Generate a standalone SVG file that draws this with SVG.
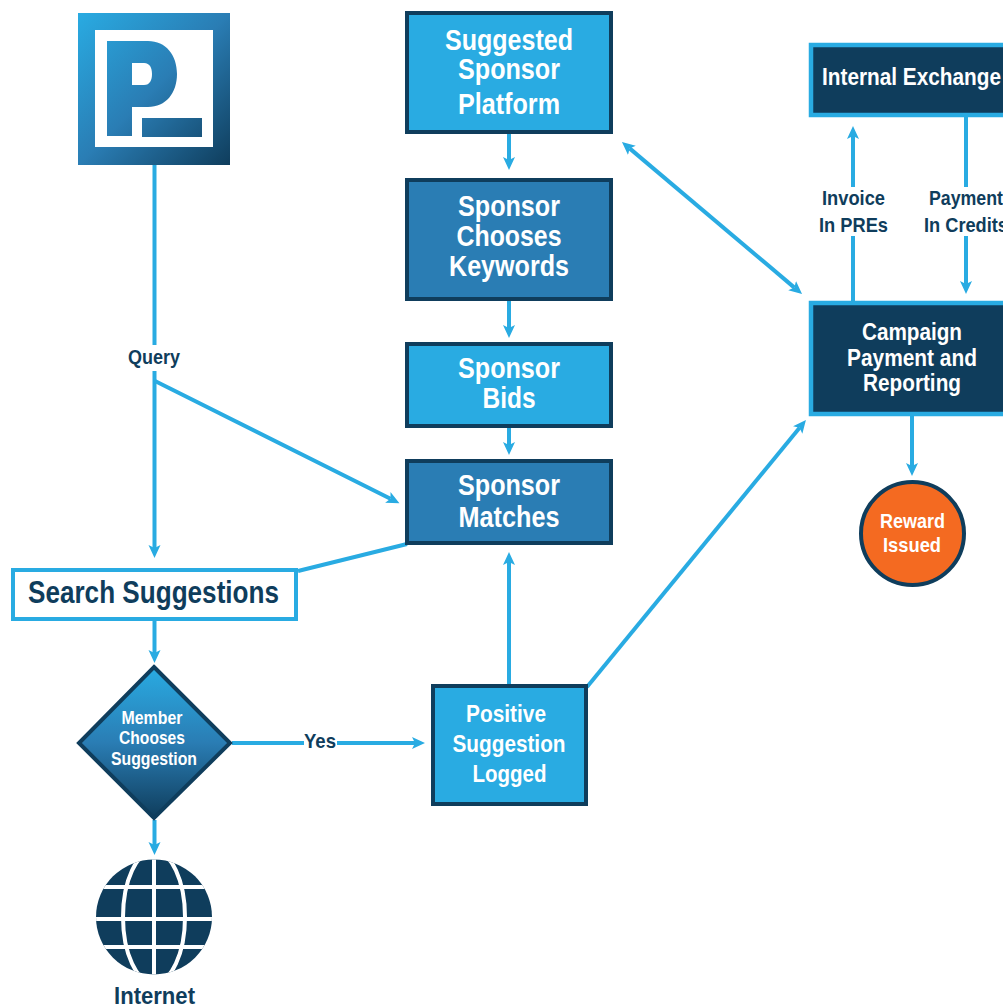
<svg xmlns="http://www.w3.org/2000/svg" width="1003" height="1008" viewBox="0 0 1003 1008">
<defs>
<linearGradient id="logoG" gradientUnits="userSpaceOnUse" x1="78" y1="13" x2="230" y2="165"><stop offset="0" stop-color="#29ABE2"/><stop offset="0.5" stop-color="#2A7DB4"/><stop offset="1" stop-color="#0F3D5C"/></linearGradient>
<linearGradient id="diaG" gradientUnits="userSpaceOnUse" x1="154" y1="667" x2="154" y2="818"><stop offset="0" stop-color="#29ABE2"/><stop offset="0.5" stop-color="#2A7DB4"/><stop offset="1" stop-color="#0F3D5C"/></linearGradient>
<marker id="ah" markerUnits="userSpaceOnUse" markerWidth="14" markerHeight="14" refX="3" refY="6.500" orient="auto-start-reverse" viewBox="0 0 14 13"><path d="M0 0.500L13 6.500L0 12.500L3 6.500Z" fill="#29ABE2"/></marker>
<clipPath id="gc"><ellipse cx="154" cy="917" rx="58" ry="57.500"/></clipPath>
</defs>
<style>
text{font-family:"Liberation Sans",Arial,sans-serif;font-weight:700;text-anchor:middle}
.l{fill:#fff}.d{fill:#0F3D5C}
.c{fill:none;stroke:#29ABE2;stroke-width:4}
.bl{fill:#29ABE2;stroke:#0F3D5C;stroke-width:4}
.bm{fill:#2A7DB4;stroke:#0F3D5C;stroke-width:4}
.bd{fill:#0F3D5C;stroke:#29ABE2;stroke-width:4.500}
.t1{font-size:29px}.t2{font-size:24px}.t3{font-size:24px}.t4{font-size:21px}.t5{font-size:17.500px}
</style>
<g id="connectors">
<path class="c" d="M154.500 165V345"/>
<path class="c" d="M154.500 371V548" marker-end="url(#ah)"/>
<path class="c" d="M155 381L390.500 498.800" marker-end="url(#ah)"/>
<path class="c" d="M154.500 621V653" marker-end="url(#ah)"/>
<path class="c" d="M154.500 820V845" marker-end="url(#ah)"/>
<path class="c" d="M232 743H304"/>
<path class="c" d="M337 743H415" marker-end="url(#ah)"/>
<path class="c" d="M509 134V160" marker-end="url(#ah)"/>
<path class="c" d="M509 301V328" marker-end="url(#ah)"/>
<path class="c" d="M509 428V445" marker-end="url(#ah)"/>
<path class="c" d="M509 684V562" marker-end="url(#ah)"/>
<path class="c" d="M298 571L407 544"/>
<path class="c" d="M587 687L799.600 427.700" marker-end="url(#ah)"/>
<path class="c" d="M629.600 148.400L794.400 287.600" marker-start="url(#ah)" marker-end="url(#ah)"/>
<path class="c" d="M853 301V236"/>
<path class="c" d="M853 187V136" marker-end="url(#ah)"/>
<path class="c" d="M966 117V187"/>
<path class="c" d="M966 236V284" marker-end="url(#ah)"/>
<path class="c" d="M912 416V466" marker-end="url(#ah)"/>
<text class="d t4" x="154" y="364" textLength="52" lengthAdjust="spacingAndGlyphs">Query</text>
<text class="d t4" x="320" y="748" textLength="32" lengthAdjust="spacingAndGlyphs">Yes</text>
<text class="d t4" x="853.500" y="205" textLength="63" lengthAdjust="spacingAndGlyphs">Invoice</text>
<text class="d t4" x="853.500" y="232" textLength="69" lengthAdjust="spacingAndGlyphs">In PREs</text>
<text class="d t4" x="966" y="205" textLength="74" lengthAdjust="spacingAndGlyphs">Payment</text>
<text class="d t4" x="966" y="232" textLength="84" lengthAdjust="spacingAndGlyphs">In Credits</text>
</g>
<g id="logo">
<rect x="78" y="13" width="152" height="152" fill="url(#logoG)"/>
<rect x="95" y="30" width="118" height="117" fill="#fff"/>
<path fill="url(#logoG)" fill-rule="evenodd" d="M107 41H148C166 41 177 55 177 74C177 93 166 107 148 107H132V136H107ZM132 63V85H144C150 85 152 80 152 74C152 68 150 63 144 63Z"/>
<rect x="142" y="118" width="60" height="19" fill="url(#logoG)"/>
</g>
<g id="suggested-sponsor-platform">
<rect class="bl" x="407" y="13" width="204" height="119"/>
<text class="l t1" x="509" y="50" textLength="128" lengthAdjust="spacingAndGlyphs">Suggested</text>
<text class="l t1" x="509" y="79" textLength="102" lengthAdjust="spacingAndGlyphs">Sponsor</text>
<text class="l t1" x="509" y="114" textLength="102" lengthAdjust="spacingAndGlyphs">Platform</text>
</g>
<g id="sponsor-chooses-keywords">
<rect class="bm" x="407" y="180" width="204" height="119"/>
<text class="l t1" x="509" y="216" textLength="102" lengthAdjust="spacingAndGlyphs">Sponsor</text>
<text class="l t1" x="509" y="246" textLength="105" lengthAdjust="spacingAndGlyphs">Chooses</text>
<text class="l t1" x="509" y="276" textLength="120" lengthAdjust="spacingAndGlyphs">Keywords</text>
</g>
<g id="sponsor-bids">
<rect class="bl" x="407" y="344" width="204" height="82"/>
<text class="l t1" x="509" y="378" textLength="102" lengthAdjust="spacingAndGlyphs">Sponsor</text>
<text class="l t1" x="509" y="408" textLength="53" lengthAdjust="spacingAndGlyphs">Bids</text>
</g>
<g id="sponsor-matches">
<rect class="bm" x="407" y="461" width="204" height="82"/>
<text class="l t1" x="509" y="495" textLength="102" lengthAdjust="spacingAndGlyphs">Sponsor</text>
<text class="l t1" x="509" y="527" textLength="101" lengthAdjust="spacingAndGlyphs">Matches</text>
</g>
<g id="search-suggestions">
<rect x="13" y="570" width="283" height="49" fill="#fff" stroke="#29ABE2" stroke-width="4"/>
<text class="d" font-size="32" x="153.500" y="603" textLength="251" lengthAdjust="spacingAndGlyphs">Search Suggestions</text>
</g>
<g id="member-chooses-suggestion">
<path d="M154 667L230 743L154 818L79 743Z" fill="url(#diaG)" stroke="#0F3D5C" stroke-width="4"/>
<text class="l t5" x="152" y="724" textLength="61" lengthAdjust="spacingAndGlyphs">Member</text>
<text class="l t5" x="152" y="744" textLength="66" lengthAdjust="spacingAndGlyphs">Chooses</text>
<text class="l t5" x="154" y="765" textLength="86" lengthAdjust="spacingAndGlyphs">Suggestion</text>
</g>
<g id="positive-suggestion-logged">
<rect class="bl" x="433" y="686" width="153" height="118"/>
<text class="l t2" x="506" y="722" textLength="80" lengthAdjust="spacingAndGlyphs">Positive</text>
<text class="l t2" x="509" y="752" textLength="113" lengthAdjust="spacingAndGlyphs">Suggestion</text>
<text class="l t2" x="509.500" y="782" textLength="74" lengthAdjust="spacingAndGlyphs">Logged</text>
</g>
<g id="internal-exchange">
<rect class="bd" x="811" y="45" width="230" height="70"/>
<text class="l t3" x="911.500" y="85" textLength="179" lengthAdjust="spacingAndGlyphs">Internal Exchange</text>
</g>
<g id="campaign-payment-reporting">
<rect class="bd" x="811" y="303" width="230" height="111"/>
<text class="l t3" x="912" y="340" textLength="100" lengthAdjust="spacingAndGlyphs">Campaign</text>
<text class="l t3" x="912" y="366" textLength="130" lengthAdjust="spacingAndGlyphs">Payment and</text>
<text class="l t3" x="912" y="391" textLength="98" lengthAdjust="spacingAndGlyphs">Reporting</text>
</g>
<g id="reward-issued">
<circle cx="912.500" cy="533.500" r="51.500" fill="#F46A21" stroke="#0F3D5C" stroke-width="4"/>
<text class="l t4" x="912.500" y="528" textLength="65" lengthAdjust="spacingAndGlyphs">Reward</text>
<text class="l t4" x="912" y="552" textLength="58" lengthAdjust="spacingAndGlyphs">Issued</text>
</g>
<g id="internet">
<g clip-path="url(#gc)">
<rect x="96" y="859" width="116" height="116" fill="#0F3D5C"/>
<g fill="none" stroke="#fff" stroke-width="4">
<path d="M90 887H218M90 919H218M90 947H218M154 855V980"/>
<ellipse cx="154" cy="917" rx="31" ry="66"/>
</g>
</g>
<text class="d t3" x="154.500" y="1004" textLength="81" lengthAdjust="spacingAndGlyphs">Internet</text>
</g>
</svg>
